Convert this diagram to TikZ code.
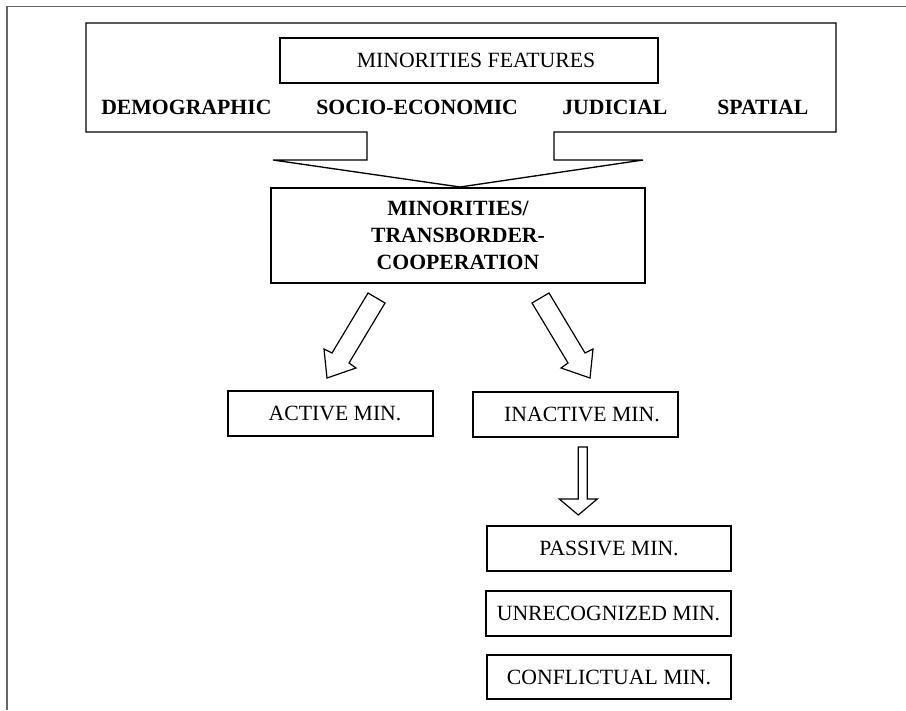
\documentclass[tikz,border=0pt]{standalone}
\usepackage{fontspec}
\setmainfont{Liberation Serif}
\begin{document}
\begin{tikzpicture}[x=0.75pt,y=-0.75pt,
  frame/.style={draw=black!60, line width=1.1pt},
  outline/.style={draw=black, line width=1pt, line join=miter},
  box/.style={draw=black, line width=1pt, inner sep=0pt, align=center,
    font=\fontsize{16.3}{20}\selectfont},
  boxwh/.style 2 args={minimum width=#1*0.75pt, minimum height=#2*0.75pt},
  lbl/.style={font=\fontsize{16.3}{20}\selectfont\bfseries, anchor=base west, inner sep=0pt},
  blockarrow/.style={draw=black, line width=0.9pt, fill=white, line join=miter}]
\useasboundingbox (0,0) rectangle (906,710);
% outer frame (top and left sides only)
\draw[frame] (906,6.7) -- (7,6.7) -- (7,710);
% callout shape
\draw[outline] (86,23) -- (836,23) -- (836,132) -- (554,132) -- (554,160) -- (643,160)
  -- (460,187) -- (273,160) -- (367,160) -- (367,132) -- (86,132) -- cycle;
\node[box, boxwh={378}{45}] (features) at (469,60.5) {\hspace*{10.5pt}MINORITIES FEATURES};
\node[lbl] (demo) at (101,114) {DEMOGRAPHIC};
\node[lbl] (socio) at (316,114) {SOCIO-ECONOMIC};
\node[lbl] (jud) at (562,114) {JUDICIAL};
\node[lbl] (spat) at (717,114) {SPATIAL};
% central box
\node[box, boxwh={374}{95}] (center) at (458,235.5)
  {\bfseries MINORITIES/\\\bfseries TRANSBORDER-\\\bfseries COOPERATION};
% lower boxes
\node[box, boxwh={205}{45}] (active) at (330.5,413.5) {\hspace*{6.75pt}ACTIVE MIN.};
\node[box, boxwh={205}{45}] (inactive) at (575.5,414.5) {\hspace*{9.75pt}INACTIVE MIN.};
\node[box, boxwh={244}{45}] (passive) at (609,548.5) {PASSIVE MIN.};
\node[box, boxwh={245}{45}] (unrec) at (608.5,613.5) {UNRECOGNIZED MIN.};
\node[box, boxwh={244}{44}] (confl) at (609,677) {CONFLICTUAL MIN.};
% block arrows
\draw[blockarrow] (368,293) -- (385,303) -- (349,363) -- (356,368) -- (327,378)
  -- (324,349) -- (332,353) -- cycle;
\draw[blockarrow] (549,293) -- (532,303) -- (568,363) -- (561,368) -- (590,378)
  -- (593,349) -- (585,353) -- cycle;
\draw[blockarrow] (578.3,447) -- (587.3,447) -- (587.3,499) -- (597.3,499) -- (578.3,515)
  -- (559.3,499) -- (578.3,499) -- cycle;
\end{tikzpicture}
\end{document}
